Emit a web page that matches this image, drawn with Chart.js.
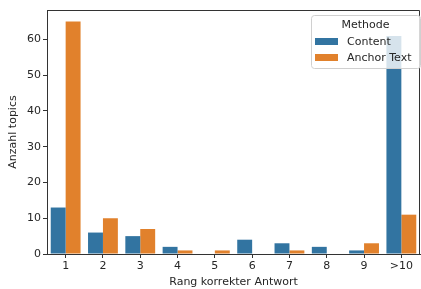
<!DOCTYPE html>
<html lang="de">
<head>
<meta charset="UTF-8">
<title>Rang korrekter Antwort</title>
<script src="https://cdn.jsdelivr.net/npm/chart.js@4"></script>
<style>
    body { margin: 0; background: #fff; }
    #wrap { width: 421px; height: 289px; }
</style>
</head>
<body>
<div id="wrap"><canvas id="chart" width="421" height="289"></canvas></div>
<script>
    const ranks = ['1', '2', '3', '4', '5', '6', '7', '8', '9', '>10'];
    const contentCounts = [13, 6, 5, 2, 0, 4, 3, 2, 1, 61];
    const anchorCounts = [65, 10, 7, 1, 1, 0, 1, 0, 3, 11];
    const yTicks = [0, 10, 20, 30, 40, 50, 60];

    const BLUE = '#3274a1';
    const ORANGE = '#e1812c';
    const FONT = 'DejaVu Sans';
    const TEXT = '#262626';

    // top and right spines + the legend box in the upper right corner
    const extras = {
        id: 'extras',
        afterDraw(chart) {
            const ctx = chart.ctx;
            const a = chart.chartArea;
            ctx.save();
            ctx.strokeStyle = '#333';
            ctx.lineWidth = 1;
            ctx.beginPath();
            ctx.moveTo(a.left, a.top + 0.5);
            ctx.lineTo(a.right - 0.5, a.top + 0.5);
            ctx.lineTo(a.right - 0.5, a.bottom);
            ctx.stroke();

            const x = 311, y = 15, w = 109, h = 53;
            ctx.fillStyle = 'rgba(255,255,255,0.8)';
            ctx.strokeStyle = '#d0d0d0';
            ctx.beginPath();
            ctx.roundRect(x + 0.5, y + 0.5, w, h, 3);
            ctx.fill();
            ctx.stroke();

            ctx.font = '11px "' + FONT + '"';
            ctx.fillStyle = TEXT;
            ctx.textBaseline = 'middle';
            ctx.textAlign = 'center';
            ctx.fillText('Methode', x + w / 2, y + 10);
            ctx.textAlign = 'left';
            const items = [['Content', BLUE], ['Anchor Text', ORANGE]];
            items.forEach((it, i) => {
                const yy = y + 27 + i * 16;
                ctx.fillStyle = it[1];
                ctx.fillRect(x + 4, yy - 4, 23, 7);
                ctx.fillStyle = TEXT;
                ctx.fillText(it[0], x + 36, yy);
            });
            ctx.restore();
        }
    };

    new Chart(document.getElementById('chart'), {
        type: 'bar',
        data: {
            labels: ranks,
            datasets: [
                { label: 'Content', data: contentCounts, backgroundColor: BLUE },
                { label: 'Anchor Text', data: anchorCounts, backgroundColor: ORANGE }
            ]
        },
        options: {
            responsive: false,
            animation: false,
            events: [],
            layout: { padding: { top: 10, right: 1, left: 0, bottom: 0 } },
            datasets: { bar: { categoryPercentage: 0.8, barPercentage: 1.0 } },
            plugins: { legend: { display: false }, tooltip: { enabled: false } },
            scales: {
                x: {
                    offset: true,
                    grid: { offset: false, drawOnChartArea: false, drawTicks: true, tickLength: 4, color: '#333' },
                    border: { display: true, color: '#333', width: 1 },
                    ticks: { color: TEXT, font: { family: FONT, size: 11 }, padding: 2, maxRotation: 0 },
                    title: { display: true, text: 'Rang korrekter Antwort', color: TEXT,
                             font: { family: FONT, size: 11 }, padding: { top: 1, bottom: 0 } },
                    afterFit(scale) { scale.height = 35; }
                },
                y: {
                    min: 0,
                    max: 68.25,
                    afterBuildTicks(scale) { scale.ticks = yTicks.map(v => ({ value: v })); },
                    grid: { drawOnChartArea: false, drawTicks: true, tickLength: 4, color: '#333' },
                    border: { display: true, color: '#333', width: 1 },
                    ticks: { color: TEXT, font: { family: FONT, size: 11 }, padding: 2 },
                    title: { display: true, text: 'Anzahl topics', color: TEXT,
                             font: { family: FONT, size: 11 }, padding: { top: 7, bottom: 4 } },
                    afterFit(scale) { scale.width = 47; }
                }
            }
        },
        plugins: [extras]
    });
</script>
</body>
</html>
